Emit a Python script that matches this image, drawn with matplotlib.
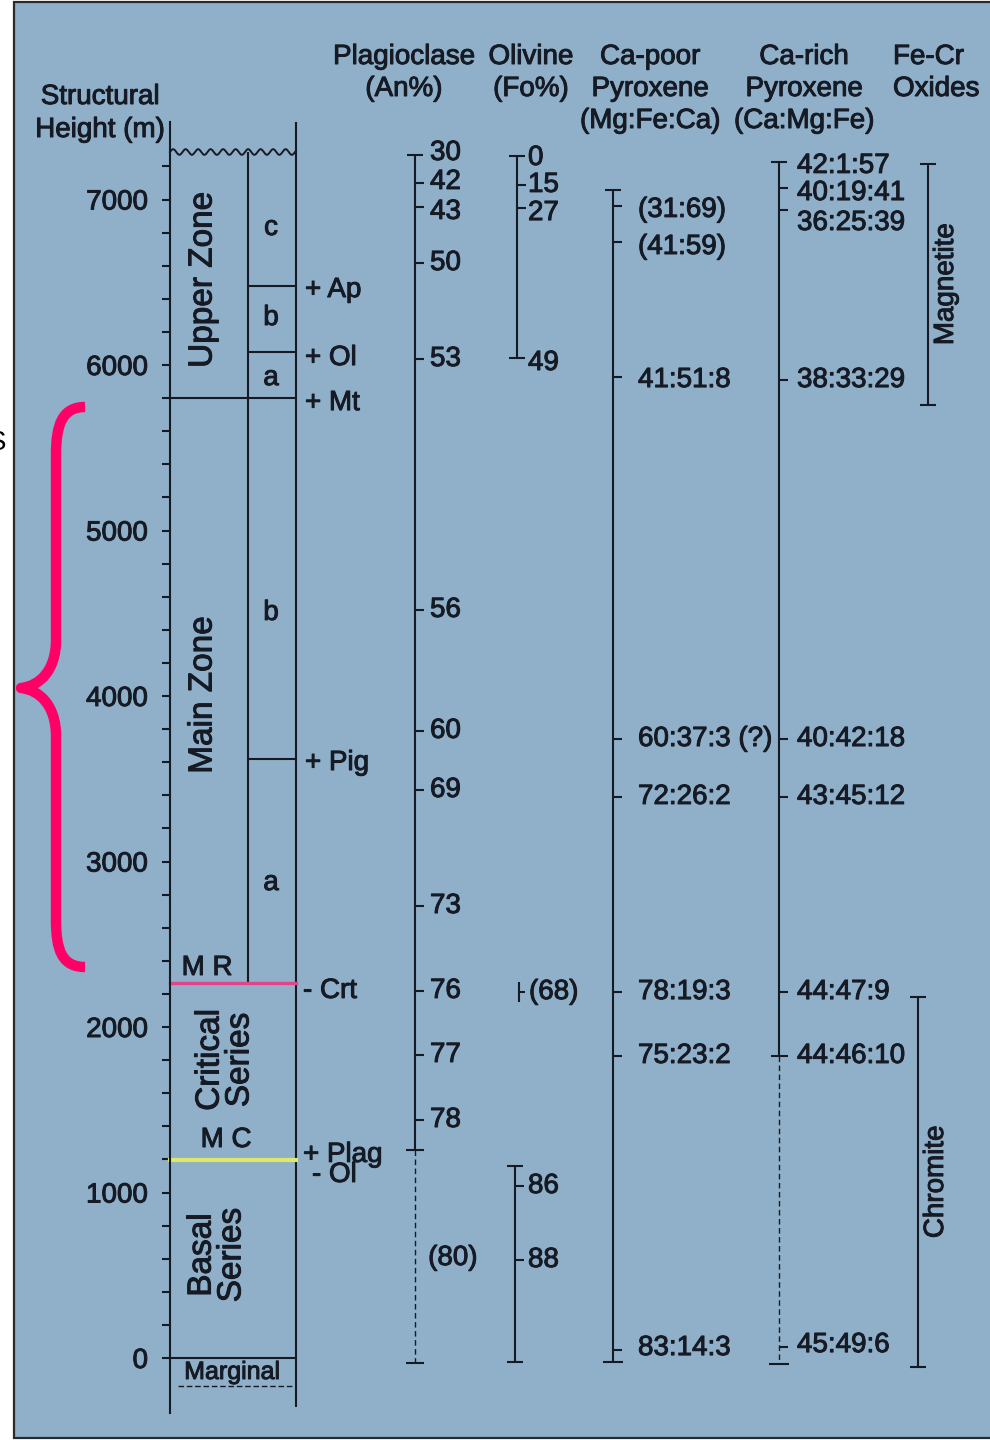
import matplotlib
matplotlib.use('Agg')
import matplotlib.pyplot as plt
import matplotlib.patheffects as pe
import numpy as np
from matplotlib.path import Path
from matplotlib.patches import PathPatch, Rectangle

plt.rcParams['font.family'] = ['Liberation Sans', 'DejaVu Sans']

# ---- data (structural height in metres) ----
height_major = [0, 1000, 2000, 3000, 4000, 5000, 6000, 7000]
height_minor = list(range(0, 7201, 200))

top_h = 7287          # unconformity at the top
ap_h, ol_h, mt_h, pig_h = 6477, 6079, 5800, 3619
mr_h, mc_h, base_h, marginal_h = 2266, 1196, 0, -169

zone_names = ['Upper Zone', 'Main Zone', 'Critical\nSeries', 'Basal\nSeries']
zone_label_h = [6514, 4006, 1801, 622]
subzone_letters = ['c', 'b', 'a', 'b', 'a']
subzone_h = [6828, 6284, 5921, 4502, 2870]
phase_labels = ['+ Ap', '+ Ol', '+ Mt', '+ Pig', '- Crt', '+ Plag', '- Ol']
phase_h = [6453, 6042, 5770, 3595, 2218, 1227, 1106]

plag_values = ['30', '42', '43', '50', '53', '56', '60', '69', '73', '76', '77', '78']
plag_h = [7269, 7100, 6955, 6616, 6036, 4520, 3789, 3432, 2731, 2218, 1831, 1438]
plag_label_h = [7281, 7106, 6925, 6616, 6036, 4520, 3789, 3432, 2731, 2218, 1831, 1438]
plag_solid = (7269, 1257)
plag_dashed = (1257, -30)
plag_basal_text, plag_basal_h = '(80)', 604

ol_upper_values = ['0', '15', '27', '49']
ol_upper_h = [7263, 7088, 6949, 6042]
ol_upper_label_h = [7251, 7088, 6918, 6012]
ol_crit_text, ol_crit_h = '(68)', 2211
ol_lower_values = ['86', '88']
ol_lower_h = [1039, 592]
ol_lower_range = (1160, -24)

cpx_poor_values = ['(31:69)', '(41:59)', '41:51:8', '60:37:3 (?)', '72:26:2',
                   '78:19:3', '75:23:2', '83:14:3']
cpx_poor_h = [6961, 6743, 5927, 3740, 3390, 2211, 1825, 48]
cpx_poor_label_h = [6937, 6713, 5909, 3740, 3390, 2211, 1825, 60]
cpx_poor_range = (7057, -24)

cpx_rich_values = ['42:1:57', '40:19:41', '36:25:39', '38:33:29', '40:42:18',
                   '43:45:12', '44:47:9', '44:46:10', '45:49:6']
cpx_rich_h = [7227, 7069, 6936, 5909, 3740, 3390, 2211, 1825, 66]
cpx_rich_label_h = [7203, 7039, 6858, 5909, 3740, 3390, 2211, 1825, 78]
cpx_rich_solid = (7227, 1825)
cpx_rich_dashed = (1825, -36)

oxide_names = ['Magnetite', 'Chromite']
oxide_ranges = [(7215, 5758), (2181, -54)]

# ---- styling ----
BG = '#8fb0c8'
INK = '#161a24'
FS = 20
W, H = 990, 1440
SCALE = 0.1655      # px per metre
ZERO_PX = 1358
# the scanned original has slightly heavier lettering
heavy = [pe.withStroke(linewidth=0.7, foreground=INK)]

fig = plt.figure(figsize=(W / 100, H / 100), dpi=100, facecolor='white')
fig.patches.append(Rectangle((14 / W, 2 / H), (W + 10 - 14) / W, (H - 4) / H,
                             transform=fig.transFigure, facecolor=BG,
                             edgecolor='#2a2a2a', lw=1.6, zorder=-10))
ax = fig.add_axes([0, 0, 1, 1])
ax.set_facecolor('none')
ax.set_xlim(0, W)
ax.set_ylim((ZERO_PX - H) / SCALE, ZERO_PX / SCALE)


def m(py):
    # pixel row -> metres, used only for layout of decorations
    return (ZERO_PX - py) / SCALE


for s in ['top', 'right', 'bottom']:
    ax.spines[s].set_visible(False)
ax.xaxis.set_visible(False)
ax.spines['left'].set_position(('data', 170))
ax.spines['left'].set_bounds(-332, 7468)
ax.spines['left'].set_linewidth(1.5)
ax.spines['left'].set_color(INK)
ax.set_yticks(height_major)
ax.set_yticks(height_minor, minor=True)
ax.tick_params(axis='y', which='both', direction='out', length=5.8, width=1.5,
               color=INK, pad=10, labelsize=FS, labelcolor=INK)
for t in ax.get_yticklabels():
    t.set_path_effects(heavy)

lk = dict(color=INK, lw=1.5, solid_capstyle='butt')
tk = dict(fontsize=FS, color=INK, path_effects=heavy)

# ---- stratigraphic column ----
X0, X1, X2 = 170, 248, 296
ax.plot([X2, X2], [-296, 7468], **lk)
ax.plot([X1, X1], [mr_h, top_h], **lk)
xw = np.linspace(X0, X2, 300)
ax.plot(xw, top_h + 17 * np.sin((xw - X0) / 12.5 * 2 * np.pi), color=INK, lw=1.4)
for h in [ap_h, ol_h, pig_h]:
    ax.plot([X1, X2], [h, h], **lk)
ax.plot([X0, X2], [mt_h, mt_h], **lk)
ax.plot([X0, X2], [base_h, base_h], **lk)
ax.plot([X0, X2], [mr_h, mr_h], color='#e0458c', lw=2.4)
ax.plot([X0, X2], [mc_h, mc_h], color='#dfe86a', lw=3)
ax.plot([178, X2], [marginal_h, marginal_h], color=INK, lw=1, ls=(0, (4, 2)))

zone_x = [203, 203, 225, 217]
for name, h, x in zip(zone_names, zone_label_h, zone_x):
    ax.text(x, h, name, rotation=90, ha='center', va='center', fontsize=24,
            color=INK, linespacing=0.95, path_effects=heavy)
for letter, h in zip(subzone_letters, subzone_h):
    ax.text(271, h, letter, ha='center', va='center', **tk)
for lab, h in zip(phase_labels, phase_h):
    x = 312 if lab == '- Ol' else (303 if lab.startswith('-') or 'Plag' in lab else 305)
    ax.text(x, h, lab, ha='left', va='center', **tk)
ax.text(207, m(968), 'M R', ha='center', va='center', **tk)
ax.text(226, m(1140), 'M C', ha='center', va='center', **tk)
ax.text(232, m(1372), 'Marginal', ha='center', va='center', fontsize=18, color=INK,
        path_effects=heavy)


# ---- mineral columns ----
def cap(x, h, half=8):
    ax.plot([x - half, x + half], [h, h], **lk)


def ticks(x, hs, side=1, length=9):
    for h in hs:
        ax.plot([x, x + side * length], [h, h], **lk)


# plagioclase
PX = 415
ax.plot([PX, PX], plag_solid, **lk)
ax.plot([PX, PX], plag_dashed, color=INK, lw=1, ls=(0, (4, 2.5)))
cap(PX, plag_solid[0]); cap(PX, plag_solid[1], 9); cap(PX, plag_dashed[1], 9)
ticks(PX, plag_h[1:])
for v, h in zip(plag_values, plag_label_h):
    ax.text(430, h, v, ha='left', va='center', **tk)
ax.text(453, plag_basal_h, plag_basal_text, ha='center', va='center', **tk)

# olivine
OX = 517
ax.plot([OX, OX], [ol_upper_h[0], ol_upper_h[-1]], **lk)
cap(OX, ol_upper_h[0]); cap(OX, ol_upper_h[-1])
ticks(OX, ol_upper_h[1:-1])
for v, h in zip(ol_upper_values, ol_upper_label_h):
    ax.text(528, h, v, ha='left', va='center', **tk)
ax.plot([519, 519], [ol_crit_h - 60, ol_crit_h + 60], **lk)
ticks(519, [ol_crit_h], length=6)
ax.text(529, ol_crit_h, ol_crit_text, ha='left', va='center', **tk)
OX2 = 515
ax.plot([OX2, OX2], ol_lower_range, **lk)
cap(OX2, ol_lower_range[0]); cap(OX2, ol_lower_range[1])
ticks(OX2, ol_lower_h)
for v, h in zip(ol_lower_values, ol_lower_h):
    ax.text(528, h, v, ha='left', va='center', **tk)

# Ca-poor pyroxene
CX = 613
ax.plot([CX, CX], cpx_poor_range, **lk)
cap(CX, cpx_poor_range[0]); cap(CX, cpx_poor_range[1], 10)
ticks(CX, cpx_poor_h)
for v, h in zip(cpx_poor_values, cpx_poor_label_h):
    ax.text(638, h, v, ha='left', va='center', **tk)

# Ca-rich pyroxene
RX = 779
ax.plot([RX, RX], cpx_rich_solid, **lk)
ax.plot([RX, RX], cpx_rich_dashed, color=INK, lw=1, ls=(0, (4, 2.5)))
cap(RX, cpx_rich_solid[0]); cap(RX, cpx_rich_dashed[1], 10)
ticks(RX, cpx_rich_h[1:])
ax.plot([RX - 8, RX], [cpx_rich_h[7]] * 2, **lk)
for v, h in zip(cpx_rich_values, cpx_rich_label_h):
    ax.text(797, h, v, ha='left', va='center', **tk)

# Fe-Cr oxides
for name, (h0, h1), x, tx in zip(oxide_names, oxide_ranges, [928, 918], [946, 936]):
    ax.plot([x, x], [h0, h1], **lk)
    cap(x, h0); cap(x, h1)
    ax.text(tx, (h0 + h1) / 2, name, rotation=90, ha='center', va='center', **tk)

# ---- headers ----
def header(x, lines, y0, ha='center', step=32):
    for i, s in enumerate(lines):
        fig.text(x / W, 1 - (y0 + i * step) / H, s, ha=ha, va='center', **tk)


header(100, ['Structural', 'Height (m)'], 97, step=33)
header(404, ['Plagioclase', '(An%)'], 57)
header(531, ['Olivine', '(Fo%)'], 57)
header(650, ['Ca-poor', 'Pyroxene', '(Mg:Fe:Ca)'], 57)
header(804, ['Ca-rich', 'Pyroxene', '(Ca:Mg:Fe)'], 57)
header(893, ['Fe-Cr', 'Oxides'], 57, ha='left')

# ---- magenta brace beside the Main Zone ----
pts = [(85, 407), (62, 407), (56, 425), (56, 455), (56, 640),
       (56, 670), (40, 686), (21, 688),
       (40, 690), (56, 706), (56, 736), (56, 920),
       (56, 950), (62, 967), (85, 967)]
codes = [Path.MOVETO, Path.CURVE4, Path.CURVE4, Path.CURVE4, Path.LINETO,
         Path.CURVE4, Path.CURVE4, Path.CURVE4,
         Path.CURVE4, Path.CURVE4, Path.CURVE4, Path.LINETO,
         Path.CURVE4, Path.CURVE4, Path.CURVE4]
brace = Path([(x, m(y)) for x, y in pts], codes)
ax.add_patch(PathPatch(brace, facecolor='none', edgecolor='#ff0066', lw=7.5,
                       capstyle='butt', joinstyle='round'))

fig.text(6 / W, 1 - 443 / H, 'S', ha='right', va='center', fontsize=FS, color='black')

fig.savefig('out.png', dpi=100, facecolor='white')
